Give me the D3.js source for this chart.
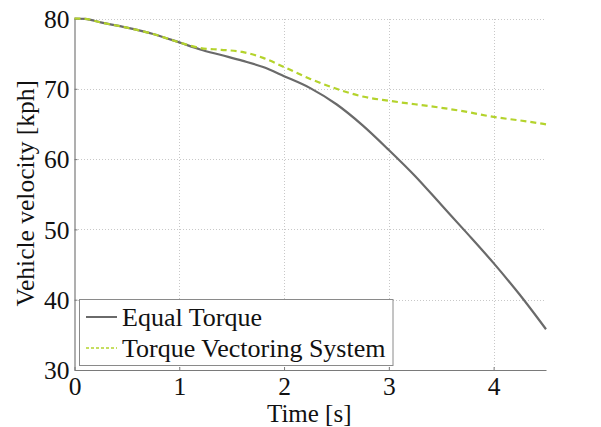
<!DOCTYPE html>
<html>
<head>
<meta charset="utf-8">
<script src="https://cdn.jsdelivr.net/npm/d3@7/dist/d3.min.js"></script>
<style>
  html, body { margin: 0; padding: 0; background: #fff; }
  svg { display: block; font-family: "Liberation Serif", "Times New Roman", serif; }
</style>
</head>
<body>
<svg id="chart" width="601" height="427"></svg>
<script>
// Time samples [s]
const time = [0, 0.1, 0.25, 0.5, 0.75, 1.0, 1.2, 1.4, 1.6, 1.8, 2.0, 2.25, 2.5, 2.75, 3.0, 3.25, 3.5, 3.75, 4.0, 4.25, 4.5];
// Vehicle velocity [kph], equal torque split
const equalTorque = [80, 79.95, 79.45, 78.7, 77.8, 76.6, 75.6, 74.8, 74.0, 73.1, 71.8, 70.1, 67.8, 64.8, 61.3, 57.6, 53.5, 49.4, 45.2, 40.7, 35.8];
// Vehicle velocity [kph], torque vectoring system
const torqueVectoring = [80, 79.95, 79.45, 78.7, 77.8, 76.6, 75.8, 75.55, 75.25, 74.4, 73.1, 71.4, 70.0, 68.9, 68.3, 67.8, 67.3, 66.7, 66.0, 65.5, 64.95];

const seriesNames = ["Equal Torque", "Torque Vectoring System"];
const xTicks = [0, 1, 2, 3, 4];
const yTicks = [30, 40, 50, 60, 70, 80];

const svg = d3.select("#chart");
const plotL = 74.5, plotR = 546, plotT = 18.5, plotB = 370;

const x = d3.scaleLinear().domain([0, 4.5]).range([plotL, plotR]);
const y = d3.scaleLinear().domain([30, 80]).range([plotB, plotT]);

// Dotted grid
const grid = svg.append("g").attr("stroke", "#c8c8c8").attr("stroke-width", 1)
  .attr("stroke-dasharray", "1,2").attr("shape-rendering", "crispEdges");
xTicks.filter(t => t > 0).forEach(t => {
  grid.append("line").attr("x1", Math.round(x(t)) + 0.5).attr("x2", Math.round(x(t)) + 0.5)
    .attr("y1", plotT).attr("y2", plotB);
});
yTicks.filter(t => t > 30).forEach(t => {
  grid.append("line").attr("x1", plotL).attr("x2", plotR)
    .attr("y1", Math.round(y(t)) + 0.5).attr("y2", Math.round(y(t)) + 0.5);
});

// Axes
const xAxis = d3.axisBottom(x).tickValues(xTicks).tickFormat(d3.format("d")).tickSizeInner(-3).tickSizeOuter(0).tickPadding(7);
const yAxis = d3.axisLeft(y).tickValues(yTicks).tickFormat(d3.format("d")).tickSizeInner(-3).tickSizeOuter(0).tickPadding(5);

const gx = svg.append("g").attr("transform", `translate(0,${plotB})`).call(xAxis);
const gy = svg.append("g").attr("transform", `translate(${plotL},0)`).call(yAxis);
[gx, gy].forEach(g => {
  g.attr("font-family", null).attr("font-size", null);
  g.select(".domain").attr("stroke", "#7a7a7a").attr("stroke-width", 1.2);
  g.selectAll(".tick line").attr("stroke", "#7a7a7a");
  g.selectAll(".tick text").attr("fill", "#111").attr("font-size", 25.5);
});
gx.selectAll(".tick text").attr("dy", "0.71em");
gy.selectAll(".tick text").attr("dy", "0.34em");

// Axis titles
svg.append("text").attr("x", (plotL + plotR) / 2 - 1).attr("y", 421.5)
  .attr("text-anchor", "middle").attr("font-size", 25).attr("fill", "#111").text("Time [s]");
svg.append("text").attr("transform", `translate(34,${(plotT + plotB) / 2 - 1}) rotate(-90)`)
  .attr("text-anchor", "middle").attr("font-size", 25.5).attr("fill", "#111").text("Vehicle velocity [kph]");

// Curves
const line = d3.line().x(d => x(d[0])).y(d => y(d[1])).curve(d3.curveMonotoneX);
const eqData = time.map((t, i) => [t, equalTorque[i]]);
const tvData = time.map((t, i) => [t, torqueVectoring[i]]);

svg.append("path").datum(eqData).attr("d", line).attr("fill", "none")
  .attr("stroke", "#6a6a6a").attr("stroke-width", 2.2);
svg.append("path").datum(tvData).attr("d", line).attr("fill", "none")
  .attr("stroke", "#b4d32c").attr("stroke-width", 2.2).attr("stroke-dasharray", "6,4");

// Legend
const lg = svg.append("g");
lg.append("rect").attr("x", 79.5).attr("y", 299.5).attr("width", 313.5).attr("height", 66)
  .attr("fill", "#fff").attr("stroke", "#8a8a8a").attr("stroke-width", 1);
const rows = [
  { name: seriesNames[0], color: "#6a6a6a", dash: null, width: 2, yy: 317 },
  { name: seriesNames[1], color: "#b4d32c", dash: "3,2", width: 1.6, yy: 348 }
];
rows.forEach(r => {
  lg.append("line").attr("x1", 86).attr("x2", 117).attr("y1", r.yy).attr("y2", r.yy)
    .attr("stroke", r.color).attr("stroke-width", r.width).attr("stroke-dasharray", r.dash);
  lg.append("text").attr("x", 122).attr("y", r.yy).attr("dy", "0.33em")
    .attr("font-size", 26).attr("fill", "#111").text(r.name);
});
</script>
</body>
</html>
